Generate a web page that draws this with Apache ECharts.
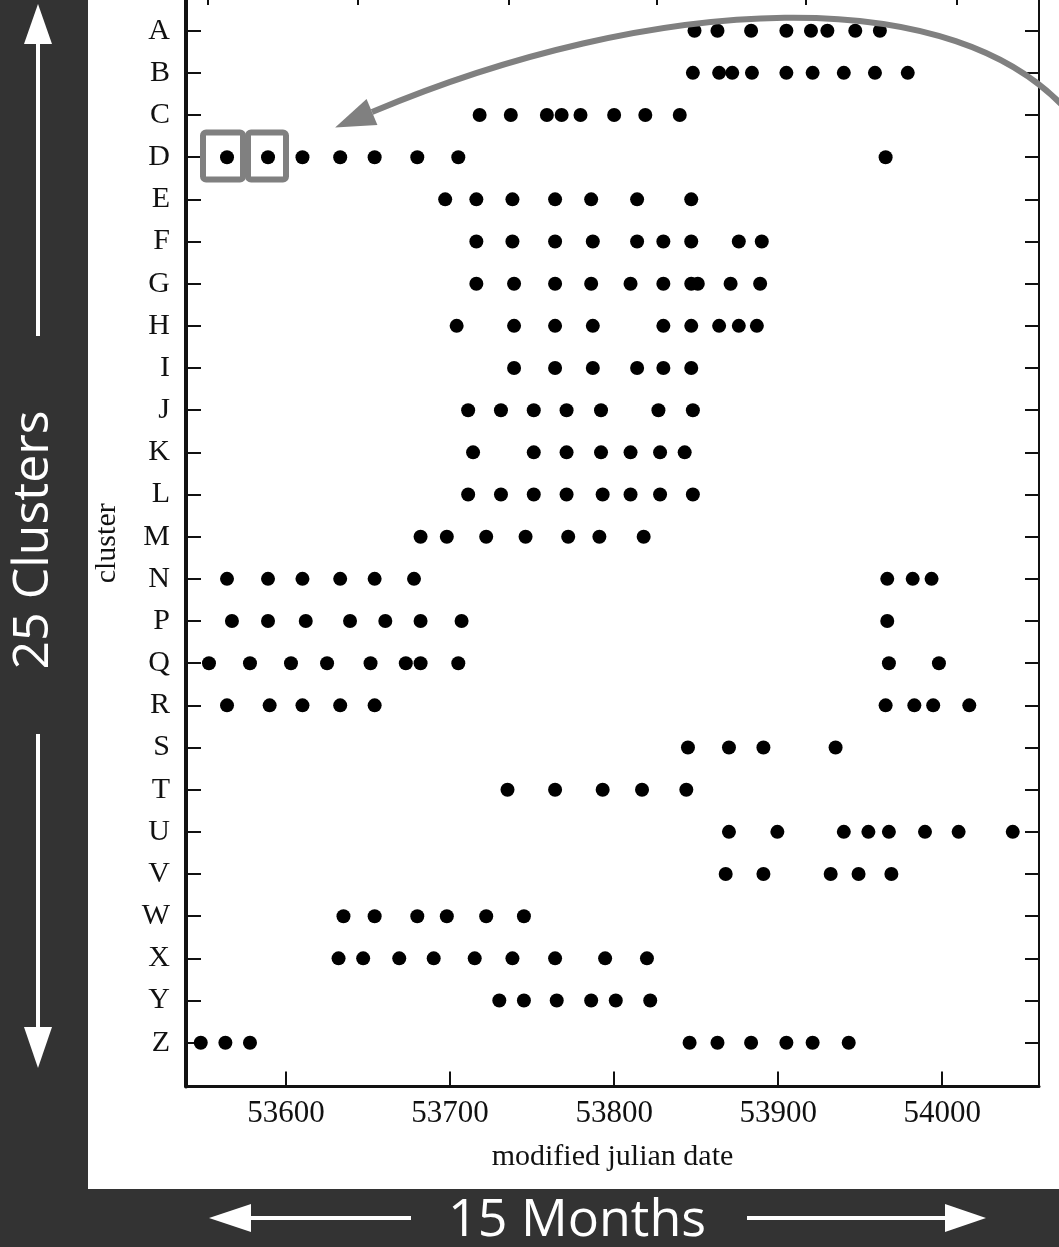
<!DOCTYPE html>
<html>
<head>
<meta charset="utf-8">
<script src="https://cdn.jsdelivr.net/npm/echarts@6/dist/echarts.min.js"></script>
<style>
  html, body { margin: 0; padding: 0; background: #333; }
  #chart { width: 1059px; height: 1247px; }
</style>
</head>
<body>
<div id="chart"></div>
<script>
// ---- data ----
const categories = ['A','B','C','D','E','F','G','H','I','J','K','L','M','N','P','Q','R','S','T','U','V','W','X','Y','Z'];
const xTickValues = [53600, 53700, 53800, 53900, 54000];
const quarterTicks = [53552, 53644, 53736, 53826, 53917, 54009];

const mjdA = [53849, 53863, 53883.5, 53905, 53920, 53930, 53947, 53962];
const mjdB = [53848, 53864, 53872, 53884, 53905, 53921, 53940, 53959, 53979];
const mjdC = [53718, 53737, 53759, 53768, 53779.5, 53800, 53819, 53840];
const mjdD = [53564, 53589, 53610, 53633, 53654, 53680, 53705, 53965.5];
const mjdE = [53697, 53716, 53738, 53764, 53786, 53814, 53847];
const mjdF = [53716, 53738, 53764, 53787, 53814, 53830, 53847, 53876, 53890];
const mjdG = [53716, 53739, 53764, 53786, 53810, 53830, 53847, 53851, 53871, 53889];
const mjdH = [53704, 53739, 53764, 53787, 53830, 53847, 53864, 53876, 53887];
const mjdI = [53739, 53764, 53787, 53814, 53830, 53847];
const mjdJ = [53711, 53731, 53751, 53771, 53792, 53827, 53848];
const mjdK = [53714, 53751, 53771, 53792, 53810, 53828, 53843];
const mjdL = [53711, 53731, 53751, 53771, 53793, 53810, 53828, 53848];
const mjdM = [53682, 53698, 53722, 53746, 53772, 53791, 53818];
const mjdN = [53564, 53589, 53610, 53633, 53654, 53678, 53966.5, 53982, 53993.5];
const mjdP = [53567, 53589, 53612, 53639, 53660.5, 53682, 53707, 53966.5];
const mjdQ = [53553, 53578, 53603, 53625, 53651.5, 53673, 53682, 53705, 53967.5, 53998];
const mjdR = [53564, 53590, 53610, 53633, 53654, 53965.5, 53983, 53994.5, 54016.5];
const mjdS = [53845, 53870, 53891, 53935];
const mjdT = [53735, 53764, 53793, 53817, 53844];
const mjdU = [53870, 53899.5, 53940, 53955, 53967.5, 53989.5, 54010, 54043];
const mjdV = [53868, 53891, 53932, 53949, 53969];
const mjdW = [53635, 53654, 53680, 53698, 53722, 53745];
const mjdX = [53632, 53647, 53669, 53690, 53715, 53738, 53764, 53794.5, 53820];
const mjdY = [53730, 53745, 53765, 53786, 53801, 53822];
const mjdZ = [53548, 53563, 53578, 53846, 53863, 53883.5, 53905, 53921, 53943];

const rows = [mjdA, mjdB, mjdC, mjdD, mjdE, mjdF, mjdG, mjdH, mjdI, mjdJ, mjdK, mjdL, mjdM,
              mjdN, mjdP, mjdQ, mjdR, mjdS, mjdT, mjdU, mjdV, mjdW, mjdX, mjdY, mjdZ];

// ---- build ----
const points = [];
rows.forEach((arr, i) => arr.forEach(v => points.push([v, i])));
const catIdx = categories.map((c, i) => i);

const SERIF = '"Liberation Serif", "Times New Roman", serif';
const SANS = '"Open Sans", "Noto Sans", sans-serif';
const INK = '#111';
const GRAY = '#808080';
const DARK = '#333333';

const X_MIN = 53539, X_MAX = 54059;
const Y_MIN = -0.728, Y_MAX = 25.041;

// curved annotation arrow geometry
const arrowEnd = [372, 112];
const dir = [-0.922, 0.388];
const perp = [0.388, 0.922];
const headLen = 40, headHalf = 14;
const tip = [arrowEnd[0] + dir[0] * headLen, arrowEnd[1] + dir[1] * headLen];

const chart = echarts.init(document.getElementById('chart'), null, { renderer: 'canvas' });
chart.setOption({
  animation: false,
  backgroundColor: '#ffffff',
  grid: { left: 186, right: 20, top: 0, bottom: 160.4, containLabel: false },
  xAxis: [
    {
      type: 'value', position: 'bottom', min: X_MIN, max: X_MAX,
      name: 'modified julian date', nameLocation: 'middle', nameGap: 56,
      nameTextStyle: { fontFamily: SERIF, fontSize: 30, color: INK },
      axisLine: { onZero: false, lineStyle: { color: INK, width: 3 } },
      axisTick: { show: true, inside: true, length: 15, lineStyle: { color: INK, width: 2 }, customValues: xTickValues },
      axisLabel: { fontFamily: SERIF, fontSize: 31, color: INK, margin: 12, customValues: xTickValues,
                   formatter: v => String(v) },
      splitLine: { show: false }
    },
    {
      type: 'value', position: 'top', min: X_MIN, max: X_MAX,
      axisLine: { show: false, onZero: false },
      axisTick: { show: true, inside: true, length: 5, lineStyle: { color: INK, width: 2 }, customValues: quarterTicks },
      axisLabel: { show: false },
      splitLine: { show: false }
    }
  ],
  yAxis: [
    {
      type: 'value', position: 'left', inverse: true, min: Y_MIN, max: Y_MAX,
      name: 'cluster', nameLocation: 'middle', nameGap: 64, nameRotate: 90,
      nameTextStyle: { fontFamily: SERIF, fontSize: 30, color: INK },
      axisLine: { show: true, onZero: false, lineStyle: { color: INK, width: 4 } },
      axisTick: { show: true, inside: true, length: 15, lineStyle: { color: INK, width: 2 }, customValues: catIdx },
      axisLabel: { fontFamily: SERIF, fontSize: 30, color: INK, margin: 16, customValues: catIdx,
                   formatter: v => categories[Math.round(v)] || '' },
      splitLine: { show: false }
    },
    {
      type: 'value', position: 'right', inverse: true, min: Y_MIN, max: Y_MAX,
      axisLine: { show: true, onZero: false, lineStyle: { color: INK, width: 2 } },
      axisTick: { show: true, inside: true, length: 14, lineStyle: { color: INK, width: 2 }, customValues: catIdx },
      axisLabel: { show: false },
      splitLine: { show: false }
    }
  ],
  series: [{
    type: 'scatter', xAxisIndex: 0, yAxisIndex: 0,
    symbol: 'circle', symbolSize: 14,
    itemStyle: { color: '#000', opacity: 1 },
    data: points
  }],
  graphic: [
    // dark frame strips
    { type: 'rect', z: 100, shape: { x: 0, y: 0, width: 88, height: 1247 }, style: { fill: DARK } },
    { type: 'rect', z: 100, shape: { x: 0, y: 1189, width: 1059, height: 58 }, style: { fill: DARK } },
    // left strip: 25 Clusters
    { type: 'text', z: 101, x: 34, y: 540, rotation: Math.PI / 2,
      style: { text: '25 Clusters', fill: '#fff', font: '50px ' + SANS, align: 'center', verticalAlign: 'middle' } },
    { type: 'line', z: 101, shape: { x1: 38, y1: 44, x2: 38, y2: 336 }, style: { stroke: '#fff', lineWidth: 4 } },
    { type: 'polygon', z: 101, shape: { points: [[38, 4], [24, 44], [52, 44]] }, style: { fill: '#fff' } },
    { type: 'line', z: 101, shape: { x1: 38, y1: 734, x2: 38, y2: 1028 }, style: { stroke: '#fff', lineWidth: 4 } },
    { type: 'polygon', z: 101, shape: { points: [[38, 1068], [24, 1027], [52, 1027]] }, style: { fill: '#fff' } },
    // bottom strip: 15 Months
    { type: 'text', z: 101, x: 577, y: 1221,
      style: { text: '15 Months', fill: '#fff', font: '52px ' + SANS, align: 'center', verticalAlign: 'middle' } },
    { type: 'line', z: 101, shape: { x1: 250, y1: 1218, x2: 411, y2: 1218 }, style: { stroke: '#fff', lineWidth: 4 } },
    { type: 'polygon', z: 101, shape: { points: [[209, 1218], [251, 1204], [251, 1232]] }, style: { fill: '#fff' } },
    { type: 'line', z: 101, shape: { x1: 747, y1: 1218, x2: 946, y2: 1218 }, style: { stroke: '#fff', lineWidth: 4 } },
    { type: 'polygon', z: 101, shape: { points: [[986, 1218], [945, 1204], [945, 1232]] }, style: { fill: '#fff' } },
    // highlight boxes around first two D points
    { type: 'rect', z: 50, shape: { x: 203, y: 132.5, width: 40, height: 47, r: 3 },
      style: { fill: null, stroke: GRAY, lineWidth: 6 } },
    { type: 'rect', z: 50, shape: { x: 248, y: 132.5, width: 38, height: 47, r: 3 },
      style: { fill: null, stroke: GRAY, lineWidth: 6 } },
    // curved annotation arrow
    { type: 'bezierCurve', z: 50,
      shape: { x1: 1075, y1: 120, cpx1: 960, cpy1: -25, cpx2: 650, cpy2: -5, x2: arrowEnd[0], y2: arrowEnd[1] },
      style: { fill: null, stroke: GRAY, lineWidth: 6 } },
    { type: 'polygon', z: 50,
      shape: { points: [tip,
        [arrowEnd[0] + perp[0] * headHalf, arrowEnd[1] + perp[1] * headHalf],
        [arrowEnd[0] - perp[0] * headHalf, arrowEnd[1] - perp[1] * headHalf]] },
      style: { fill: GRAY } }
  ]
});
</script>
</body>
</html>
